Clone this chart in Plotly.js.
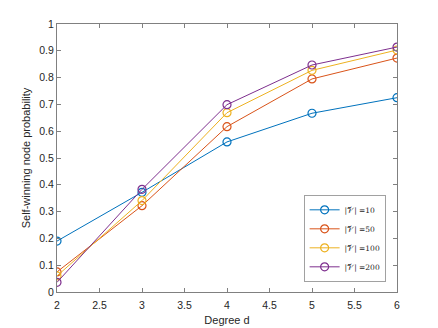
<!DOCTYPE html>
<html>
<head>
<meta charset="utf-8">
<script src="https://cdn.plot.ly/plotly-3.0.1.min.js"></script>
<style>body{margin:0;background:#fff}#plot{width:438px;height:328px}</style>
</head>
<body>
<div id="plot"></div>
<script>
// degree values on the x axis
var degree = [2, 3, 4, 5, 6]

// self-winning probability for each network size
var v10 = [0.19, 0.372, 0.56, 0.667, 0.725]
var v50 = [0.075, 0.322, 0.617, 0.795, 0.873]
var v100 = [0.06, 0.341, 0.669, 0.827, 0.903]
var v200 = [0.036, 0.383, 0.699, 0.847, 0.914]

var names = ['|𝒱| =10', '|𝒱| =50', '|𝒱| =100', '|𝒱| =200']
var colors = ['#0072BD', '#D95319', '#EDB120', '#7E2F8E']
var series = [v10, v50, v100, v200]

var xticks = [2, 2.5, 3, 3.5, 4, 4.5, 5, 5.5, 6]
var yticks = [0, 0.1, 0.2, 0.3, 0.4, 0.5, 0.6, 0.7, 0.8, 0.9, 1]

function makeTrace(i) {
  return {
    x: degree,
    y: series[i],
    mode: 'lines+markers',
    type: 'scatter',
    name: names[i],
    line: {color: colors[i], width: 1},
    marker: {symbol: 'circle-open', size: 8, color: colors[i], line: {width: 1.2}}
  }
}

var plot_data = []
for (var i = 0; i < series.length; i++) {
  plot_data.push(makeTrace(i))
}

var axisStyle = {
  showgrid: false,
  zeroline: false,
  showline: true,
  mirror: 'ticks',
  linecolor: '#808080',
  linewidth: 1,
  ticks: 'inside',
  ticklen: 4,
  tickcolor: '#808080',
  tickfont: {family: 'Liberation Sans, Arial, sans-serif', size: 10.5, color: '#262626'}
}

var layout = {
  width: 438,
  height: 328,
  margin: {l: 57, r: 41, t: 24, b: 36},
  paper_bgcolor: '#fff',
  plot_bgcolor: '#fff',
  showlegend: true,
  legend: {
    x: 0.968, y: 0.038, xanchor: 'right', yanchor: 'bottom',
    bgcolor: '#fff', bordercolor: '#444', borderwidth: 0.5,
    font: {family: 'DejaVu Serif, serif', size: 7.5, color: '#262626'},
    tracegroupgap: 0, itemwidth: 30
  },
  xaxis: Object.assign({}, axisStyle, {
    range: [2, 6],
    tickvals: xticks,
    ticktext: xticks.map(String),
    ticklabelstandoff: 3,
    title: {text: 'Degree d', font: {family: 'Liberation Sans, Arial, sans-serif', size: 11, color: '#262626'}, standoff: 6}
  }),
  yaxis: Object.assign({}, axisStyle, {
    range: [0, 1],
    tickvals: yticks,
    ticktext: yticks.map(String),
    title: {text: 'Self-winning node probability', font: {family: 'Liberation Sans, Arial, sans-serif', size: 11, color: '#262626'}, standoff: 6}
  })
}

Plotly.newPlot('plot', plot_data, layout, {displayModeBar: false})
</script>
</body>
</html>
